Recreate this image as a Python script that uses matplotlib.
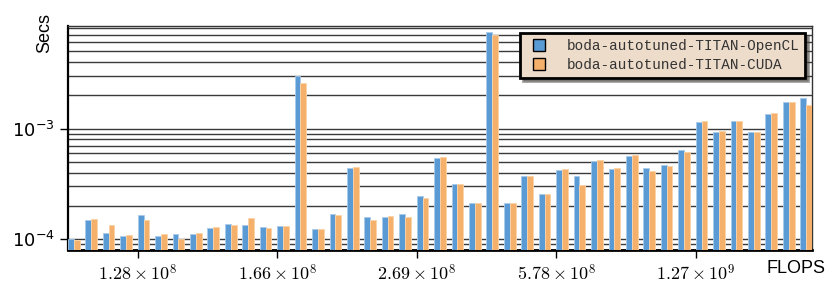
import numpy as np
import matplotlib
matplotlib.use('Agg')
import matplotlib.pyplot as plt
import matplotlib.patches as mpatches
from matplotlib.legend_handler import HandlerPatch

plt.rcParams['mathtext.fontset'] = 'cm'

# per-config runtimes (seconds)
opencl = [9.1e-5, 1.40e-4, 1.05e-4, 9.8e-5, 1.55e-4, 9.7e-5, 1.01e-4, 1.02e-4,
          1.16e-4, 1.27e-4, 1.24e-4, 1.18e-4, 1.21e-4, 2.98e-3, 1.15e-4, 1.61e-4,
          4.33e-4, 1.48e-4, 1.50e-4, 1.60e-4, 2.34e-4, 5.33e-4, 3.05e-4, 2.01e-4,
          7.37e-3, 2.01e-4, 3.64e-4, 2.47e-4, 4.12e-4, 3.64e-4, 5.04e-4, 4.21e-4,
          5.60e-4, 4.27e-4, 4.61e-4, 6.25e-4, 1.13e-3, 9.15e-4, 1.16e-3, 9.15e-4,
          1.34e-3, 1.74e-3, 1.875e-3]
cuda = [8.8e-5, 1.43e-4, 1.24e-4, 1.00e-4, 1.38e-4, 1.01e-4, 9.1e-5, 1.04e-4,
        1.18e-4, 1.26e-4, 1.45e-4, 1.16e-4, 1.21e-4, 2.58e-3, 1.13e-4, 1.57e-4,
        4.42e-4, 1.38e-4, 1.51e-4, 1.48e-4, 2.28e-4, 5.48e-4, 3.05e-4, 2.01e-4,
        6.93e-3, 2.01e-4, 3.64e-4, 2.46e-4, 4.18e-4, 3.00e-4, 5.15e-4, 4.27e-4,
        5.70e-4, 4.07e-4, 4.48e-4, 6.08e-4, 1.15e-3, 9.35e-4, 1.16e-3, 9.20e-4,
        1.37e-3, 1.71e-3, 1.63e-3]

tick_pos = [4, 12, 20, 28, 36]
tick_labels = [r'$1.28\times10^{8}$', r'$1.66\times10^{8}$', r'$2.69\times10^{8}$',
               r'$5.78\times10^{8}$', r'$1.27\times10^{9}$']

w = 1.0 / 3
x = np.arange(len(opencl))
blue = '#5b9bd5'
orange = '#f5b06b'

fig = plt.figure(figsize=(8.31, 2.97), dpi=100)
ax = fig.add_axes([0.0818, 0.158, 0.8953, 0.754])
ax.set_yscale('log')

ax.bar(x, opencl, width=w, align='edge', bottom=1e-5, color=blue,
       edgecolor='#a9cbea', linewidth=0.6, zorder=3)
ax.bar(x + w, cuda, width=w, align='edge', bottom=1e-5, color=orange,
       edgecolor='#fbd4a8', linewidth=0.6, zorder=3)

ax.set_xlim(0, len(opencl) - 1 + 2 * w)
ax.set_ylim(8e-5, 8.4e-3)

ax.yaxis.grid(True, which='both', color='#3a3a3a', linewidth=1.0, zorder=0)
ax.set_axisbelow(True)

ax.set_xticks(tick_pos)
ax.set_xticklabels(tick_labels, fontsize=13)
ax.tick_params(axis='x', length=6, width=1, pad=4)
ax.tick_params(axis='y', which='major', length=6, width=1, labelsize=13)
ax.tick_params(axis='y', which='minor', length=0)
ax.yaxis.set_minor_formatter(matplotlib.ticker.NullFormatter())

ax.spines['left'].set_linewidth(1.6)
ax.spines['bottom'].set_linewidth(2.0)
ax.spines['top'].set_linewidth(1.0)
ax.spines['right'].set_linewidth(1.0)
ax.spines['top'].set_color('#333333')
ax.spines['right'].set_color('#333333')


def square(legend, orig_handle, xdescent, ydescent, width, height, fontsize):
    s = 0.83 * fontsize
    return mpatches.Rectangle((-xdescent + width - s, -ydescent + (height - s) / 2), s, s)


handles = [mpatches.Patch(facecolor=blue, edgecolor='black', linewidth=1.0),
           mpatches.Patch(facecolor=orange, edgecolor='black', linewidth=1.0)]
names = ['boda-autotuned-TITAN-OpenCL', 'boda-autotuned-TITAN-CUDA']
leg = ax.legend(handles, names, loc='upper right', bbox_to_anchor=(0.991, 0.969),
                borderaxespad=0, prop={'family': 'Liberation Mono', 'size': 10.4},
                shadow=True, fancybox=False, framealpha=1, handlelength=1.35,
                handleheight=0.9, handletextpad=1.45, labelspacing=0.33, borderpad=0.42,
                handler_map={mpatches.Patch: HandlerPatch(patch_func=square)})
leg.get_frame().set_facecolor('#eedccb')
leg.get_frame().set_edgecolor('black')
leg.get_frame().set_linewidth(2.0)
for t in leg.get_texts():
    t.set_color('#333333')

fig.text(0.054, 0.89, 'Secs', rotation=90, ha='center', va='center',
         fontsize=13, family='Liberation Sans')
fig.text(0.958, 0.095, 'FLOPS', ha='center', va='center',
         fontsize=13, family='Liberation Sans')

fig.savefig('out.png', dpi=100)
